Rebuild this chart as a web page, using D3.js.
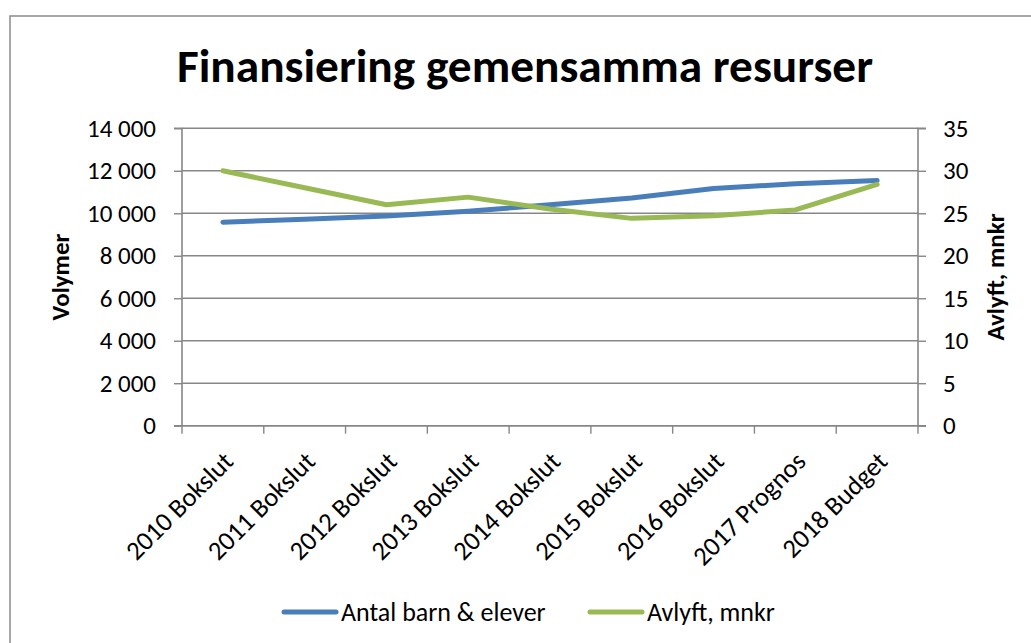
<!DOCTYPE html>
<html>
<head>
<meta charset="utf-8">
<script src="https://cdn.jsdelivr.net/npm/d3@7"></script>
<style>
  html, body { margin: 0; padding: 0; background: #fff; }
  svg { display: block; font-family: Carlito, Calibri, Lato, sans-serif; }
</style>
</head>
<body>
<svg id="chart" width="1031" height="643"></svg>
<script>
// ---- data ----
const categories = ["2010 Bokslut", "2011 Bokslut", "2012 Bokslut", "2013 Bokslut", "2014 Bokslut",
                    "2015 Bokslut", "2016 Bokslut", "2017 Prognos", "2018 Budget"];
const antalBarnElever = [9580, 9720, 9870, 10100, 10400, 10720, 11170, 11390, 11540];
const avlyftMnkr = [30.0, 28.0, 26.0, 26.9, 25.5, 24.4, 24.7, 25.4, 28.4];
const leftTicks = [0, 2000, 4000, 6000, 8000, 10000, 12000, 14000];
const rightTicks = [0, 5, 10, 15, 20, 25, 30, 35];
const seriesNames = ["Antal barn & elever", "Avlyft, mnkr"];
const title = "Finansiering gemensamma resurser";
const leftTitle = "Volymer";
const rightTitle = "Avlyft, mnkr";

// ---- layout ----
const svg = d3.select("#chart");
const plot = { left: 182, right: 918, top: 128.3, bottom: 425.7 };
const blue = "#4A7EBB", green = "#98B954", grid = "#878787";

const x = d3.scaleBand().domain(categories).range([plot.left, plot.right]);
const yL = d3.scaleLinear().domain([0, 14000]).range([plot.bottom, plot.top]);
const yR = d3.scaleLinear().domain([0, 35]).range([plot.bottom, plot.top]);
const fmt = v => d3.format(",")(v).replace(/,/g, " ");

// outer border
svg.append("rect").attr("x", 10).attr("y", 16).attr("width", 1040).attr("height", 650)
  .attr("fill", "none").attr("stroke", "#8a8a8a").attr("stroke-width", 1.5);

// title
svg.append("text").attr("x", 525).attr("y", 82).attr("text-anchor", "middle")
  .attr("font-size", 46).attr("font-weight", "bold").attr("fill", "#000")
  .attr("textLength", 696).attr("lengthAdjust", "spacingAndGlyphs")
  .text(title);

// gridlines
svg.append("g").selectAll("line").data(leftTicks).join("line")
  .attr("x1", plot.left).attr("x2", plot.right)
  .attr("y1", d => yL(d)).attr("y2", d => yL(d))
  .attr("stroke", grid).attr("stroke-width", 1.4);

// left axis
const gL = svg.append("g").attr("transform", `translate(${plot.left},0)`)
  .call(d3.axisLeft(yL).tickValues(leftTicks).tickSize(8).tickPadding(18).tickFormat(fmt));
// right axis
const gR = svg.append("g").attr("transform", `translate(${plot.right},0)`)
  .call(d3.axisRight(yR).tickValues(rightTicks).tickSize(8).tickPadding(17).tickFormat(d3.format("d")));
[gL, gR].forEach(g => {
  g.select(".domain").attr("stroke", grid).attr("stroke-width", 1.6);
  g.selectAll(".tick line").attr("stroke", grid).attr("stroke-width", 1.4);
  g.selectAll(".tick text").attr("font-size", 25).attr("fill", "#000")
    .attr("font-family", "Carlito, Calibri, Lato, sans-serif");
});
gL.select(".domain").attr("d", `M-8,${plot.top}H0V${plot.bottom}H-8`);
gR.select(".domain").attr("d", `M8,${plot.top}H0V${plot.bottom}H8`);

// bottom axis: ticks at band edges
const edges = categories.map(c => x(c)).concat([plot.right]);
const gB = svg.append("g");
gB.append("line").attr("x1", plot.left).attr("x2", plot.right)
  .attr("y1", plot.bottom).attr("y2", plot.bottom).attr("stroke", grid).attr("stroke-width", 1.6);
gB.selectAll("line.t").data(edges).join("line").attr("class", "t")
  .attr("x1", d => d).attr("x2", d => d).attr("y1", plot.bottom).attr("y2", plot.bottom + 8)
  .attr("stroke", grid).attr("stroke-width", 1.4);
gB.selectAll("text").data(categories).join("text")
  .attr("transform", d => `translate(${x(d) + x.bandwidth() / 2 + 12},463) rotate(-45)`)
  .attr("text-anchor", "end").attr("font-size", 26.5).attr("fill", "#000")
  .text(d => d);

// axis titles
svg.append("text").attr("transform", "translate(69,277) rotate(-90)")
  .attr("text-anchor", "middle").attr("font-size", 25).attr("font-weight", "bold").text(leftTitle);
svg.append("text").attr("transform", "translate(1004,277) rotate(-90)")
  .attr("text-anchor", "middle").attr("font-size", 25).attr("font-weight", "bold").text(rightTitle);

// lines
const cx = d => x(d) + x.bandwidth() / 2;
const lineL = d3.line().x((d, i) => cx(categories[i])).y(d => yL(d));
const lineR = d3.line().x((d, i) => cx(categories[i])).y(d => yR(d));
svg.append("path").datum(antalBarnElever).attr("d", lineL).attr("fill", "none")
  .attr("stroke", blue).attr("stroke-width", 5).attr("stroke-linecap", "round").attr("stroke-linejoin", "round");
svg.append("path").datum(avlyftMnkr).attr("d", lineR).attr("fill", "none")
  .attr("stroke", green).attr("stroke-width", 5).attr("stroke-linecap", "round").attr("stroke-linejoin", "round");

// legend
const legend = [
  { name: seriesNames[0], color: blue, x: 284 },
  { name: seriesNames[1], color: green, x: 590 }
];
const lg = svg.append("g").selectAll("g").data(legend).join("g")
  .attr("transform", d => `translate(${d.x},612)`);
lg.append("line").attr("x1", 0).attr("x2", 52).attr("y1", 0).attr("y2", 0)
  .attr("stroke", d => d.color).attr("stroke-width", 5).attr("stroke-linecap", "round");
lg.append("text").attr("x", 57).attr("y", 9).attr("font-size", 26).attr("fill", "#000")
  .text(d => d.name);
</script>
</body>
</html>
